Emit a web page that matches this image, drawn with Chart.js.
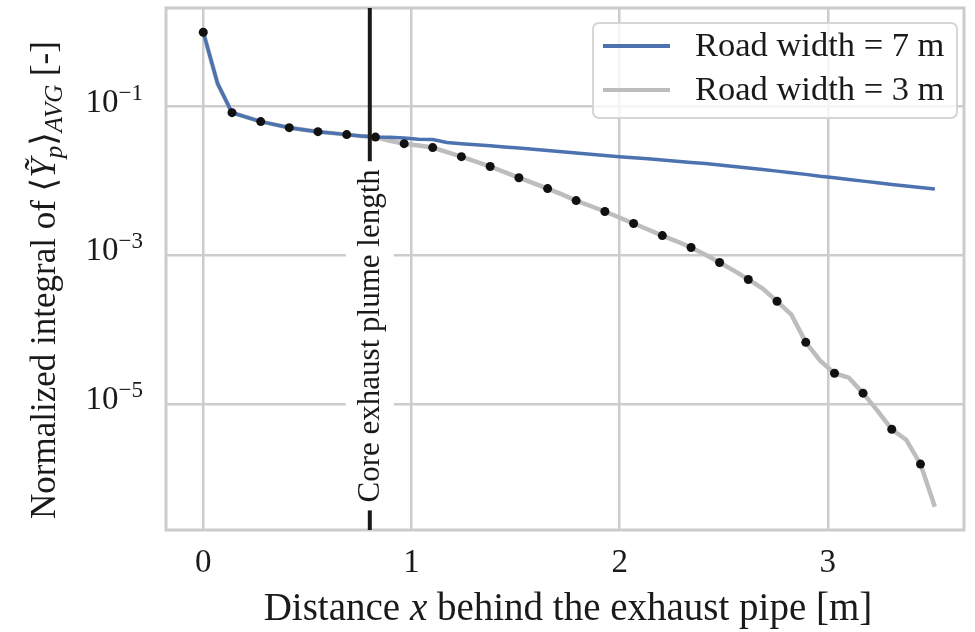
<!DOCTYPE html>
<html>
<head>
<meta charset="utf-8">
<script src="https://cdn.jsdelivr.net/npm/chart.js@4.4.0/dist/chart.umd.min.js"></script>
<style>
  body { margin: 0; background: #fff; }
  #wrap { width: 975px; height: 632px; }
</style>
</head>
<body>
<div id="wrap"><canvas id="plumeChart" width="975" height="632"></canvas></div>
<script>
// Distance behind the exhaust pipe [m]
const distance = [
    0, 0.069, 0.138, 0.207, 0.276, 0.345, 0.413, 0.482, 0.551, 0.620,
    0.689, 0.758, 0.827, 0.896, 0.965, 1.034, 1.102, 1.171, 1.240, 1.309,
    1.378, 1.447, 1.516, 1.585, 1.654, 1.723, 1.791, 1.860, 1.929, 1.998,
    2.067, 2.136, 2.205, 2.274, 2.343, 2.412, 2.480, 2.549, 2.618, 2.687,
    2.756, 2.825, 2.894, 2.963, 3.032, 3.101, 3.169, 3.238, 3.307, 3.376,
    3.445, 3.514
];
// Normalized integral of <Y_p>_AVG, road width 7 m
const road7m = [
    1.0, 0.204, 0.0830, 0.0723, 0.0630, 0.0573, 0.0522, 0.0491, 0.0461, 0.0441,
    0.0421, 0.0402, 0.0390, 0.0388, 0.0378, 0.0366, 0.0362, 0.0330, 0.0317, 0.0307,
    0.0298, 0.0287, 0.0279, 0.0267, 0.0258, 0.0248, 0.0239, 0.0230, 0.0221, 0.0213,
    0.0206, 0.0199, 0.0192, 0.0185, 0.0178, 0.0172, 0.0164, 0.0157, 0.0150, 0.0143,
    0.0136, 0.0129, 0.0123, 0.0116, 0.0111, 0.0105, 0.00998, 0.00949, 0.00900, 0.00859,
    0.00820, 0.00783
];
// Normalized integral of <Y_p>_AVG, road width 3 m
const road3m = [
    1.0, 0.204, 0.0830, 0.0723, 0.0630, 0.0573, 0.0522, 0.0491, 0.0461, 0.0441,
    0.0421, 0.0402, 0.0390, 0.0349, 0.0318, 0.0300, 0.0282, 0.0245, 0.0213, 0.0183,
    0.0157, 0.0132, 0.0111, 0.00940, 0.00793, 0.00661, 0.00547, 0.00462, 0.00390, 0.00324,
    0.00269, 0.00223, 0.00185, 0.00155, 0.00128, 0.00102, 0.000805, 0.000625, 0.000476, 0.000358,
    0.000242, 0.000160, 0.0000679, 0.0000385, 0.0000261, 0.0000228, 0.0000141, 0.0000082, 0.00000461, 0.00000334,
    0.00000157, 0.00000042
];
const seriesLabels = ['Road width = 7 m', 'Road width = 3 m'];
const xTicks = [0, 1, 2, 3];
const yTicks = [1e-1, 1e-3, 1e-5];
const plumeLength = 0.8;
const plumeLabel = 'Core exhaust plume length';

const SERIF = '"Liberation Serif", "DejaVu Serif", serif';
const BLUE = '#4c72b0';
const GREY = '#bdbdbd';
const GRID = '#cccccc';
const INK = '#1a1a1a';

const toPoints = ys => ys.map((y, i) => ({ x: distance[i], y: y }));

// draws a run of text pieces (font, text, baseline shift) starting at x
function drawRuns(ctx, runs, x, y) {
    runs.forEach(r => {
        ctx.font = r.font;
        ctx.fillText(r.text, x, y + (r.dy || 0));
        x += ctx.measureText(r.text).width;
    });
    return x;
}
function runsWidth(ctx, runs) {
    let w = 0;
    runs.forEach(r => { ctx.font = r.font; w += ctx.measureText(r.text).width; });
    return w;
}

const decorations = {
    id: 'decorations',
    beforeDatasetsDraw(chart) {
        const { ctx, chartArea: a } = chart;
        ctx.save();
        ctx.strokeStyle = GRID;
        ctx.lineWidth = 3;
        ctx.strokeRect(a.left, a.top, a.right - a.left, a.bottom - a.top);
        ctx.restore();
    },
    afterDatasetsDraw(chart) {
        const { ctx, chartArea: a, scales } = chart;
        const px = scales.x.getPixelForValue(plumeLength);

        // plume length marker with its label on a white box
        ctx.save();
        ctx.strokeStyle = INK;
        ctx.lineWidth = 4;
        ctx.beginPath();
        ctx.moveTo(px, a.top);
        ctx.lineTo(px, a.bottom);
        ctx.stroke();

        ctx.font = '31px ' + SERIF;
        const tw = ctx.measureText(plumeLabel).width;
        const cy = a.top + 0.628 * (a.bottom - a.top);
        ctx.fillStyle = '#fff';
        ctx.fillRect(px - 24, cy - tw / 2 - 8, 48, tw + 16);
        ctx.translate(px, cy);
        ctx.rotate(-Math.PI / 2);
        ctx.fillStyle = INK;
        ctx.textAlign = 'center';
        ctx.textBaseline = 'middle';
        ctx.fillText(plumeLabel, 0, 1);
        ctx.restore();

        // legend
        ctx.save();
        const lx = a.right - 371, ly = a.top + 15, lw = 364, lh = 95;
        ctx.fillStyle = 'rgba(255,255,255,0.8)';
        ctx.strokeStyle = '#d5d5d5';
        ctx.lineWidth = 2;
        ctx.beginPath();
        ctx.roundRect(lx, ly, lw, lh, 6);
        ctx.fill();
        ctx.stroke();
        const colors = [BLUE, GREY];
        ctx.font = '34.5px ' + SERIF;
        ctx.textBaseline = 'middle';
        seriesLabels.forEach((label, i) => {
            const y = ly + 23 + i * 44;
            ctx.strokeStyle = colors[i];
            ctx.lineWidth = 4;
            ctx.beginPath();
            ctx.moveTo(lx + 10, y);
            ctx.lineTo(lx + 77, y);
            ctx.stroke();
            ctx.fillStyle = INK;
            ctx.fillText(label, lx + 102, y + 1);
        });
        ctx.restore();
    },
    afterDraw(chart) {
        const { ctx, chartArea: a, scales } = chart;
        ctx.save();
        ctx.fillStyle = INK;
        ctx.textBaseline = 'alphabetic';

        // y tick labels as powers of ten
        yTicks.forEach(v => {
            const py = scales.y.getPixelForValue(v);
            const exp = '\u2212' + Math.abs(Math.round(Math.log10(v)));
            const runs = [
                { font: '33px ' + SERIF, text: '10', dy: 5 },
                { font: '23px ' + SERIF, text: exp, dy: -7 }
            ];
            drawRuns(ctx, runs, 143 - runsWidth(ctx, runs), py);
        });

        // x axis title
        const xRuns = [
            { font: '39px ' + SERIF, text: 'Distance ' },
            { font: 'italic 39px ' + SERIF, text: 'x' },
            { font: '39px ' + SERIF, text: ' behind the exhaust pipe [m]' }
        ];
        const cx = (a.left + a.right) / 2;
        drawRuns(ctx, xRuns, cx + 3 - runsWidth(ctx, xRuns) / 2, 620);

        // y axis title, rotated
        const yRuns = [
            { font: '35px ' + SERIF, text: 'Normalized integral of \u27e8' },
            { font: 'italic 35px ' + SERIF, text: '\u1ef8' },
            { font: 'italic 25px ' + SERIF, text: 'p', dy: 7 },
            { font: '35px ' + SERIF, text: '\u27e9' },
            { font: 'italic 25px ' + SERIF, text: 'AVG', dy: 7 },
            { font: '35px ' + SERIF, text: ' [-]' }
        ];
        ctx.translate(55, 280);
        ctx.rotate(-Math.PI / 2);
        drawRuns(ctx, yRuns, -runsWidth(ctx, yRuns) / 2, 0);
        ctx.restore();
    }
};

new Chart(document.getElementById('plumeChart'), {
    type: 'line',
    data: {
        datasets: [
            {
                label: 'markers',
                data: toPoints(road3m),
                showLine: false,
                pointRadius: c => (c.dataIndex % 2 === 0 ? 4.5 : 0),
                pointBackgroundColor: '#111',
                pointBorderWidth: 0,
                order: 0
            },
            {
                label: seriesLabels[0],
                data: toPoints(road7m),
                borderColor: BLUE,
                borderWidth: 3.5,
                pointRadius: 0,
                tension: 0,
                order: 1
            },
            {
                label: seriesLabels[1],
                data: toPoints(road3m),
                borderColor: GREY,
                borderWidth: 4.5,
                pointRadius: 0,
                tension: 0,
                order: 2
            }
        ]
    },
    options: {
        responsive: false,
        animation: false,
        layout: { padding: { top: 8, right: 11, left: 0, bottom: 0 } },
        scales: {
            x: {
                type: 'linear',
                min: -0.179,
                max: 3.654,
                afterBuildTicks: s => { s.ticks = xTicks.map(v => ({ value: v })); },
                afterFit: s => { s.height = 102; },
                grid: { color: GRID, lineWidth: 2.5, drawTicks: false },
                border: { display: false },
                ticks: {
                    font: { family: SERIF, size: 33 },
                    color: INK,
                    padding: 14,
                    maxRotation: 0
                }
            },
            y: {
                type: 'logarithmic',
                min: 2.04e-7,
                max: 2.12,
                afterBuildTicks: s => { s.ticks = yTicks.map(v => ({ value: v })); },
                afterFit: s => { s.width = 166; },
                grid: { color: GRID, lineWidth: 2.5, drawTicks: false },
                border: { display: false },
                ticks: { display: false }
            }
        },
        plugins: {
            legend: { display: false },
            tooltip: { enabled: false }
        }
    },
    plugins: [decorations]
});
</script>
</body>
</html>
